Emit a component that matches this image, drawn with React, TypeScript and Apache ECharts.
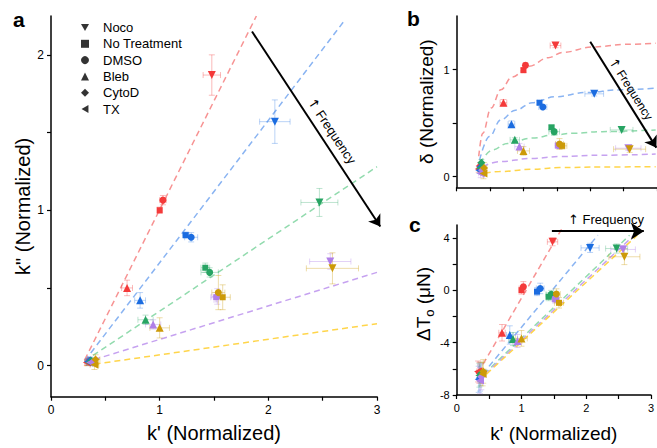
import React, { useEffect, useRef } from 'react';
import * as echarts from 'echarts';

// ---------------- DATA ----------------
const treatments = ['Noco', 'No Treatment', 'DMSO', 'Bleb', 'CytoD', 'TX'];

// rows: frequency groups (red, blue, green, purple, gold); cols: treatments
const kPrime = [
  [1.48, 1.0, 1.03, 0.7, 0.35, 0.33],
  [2.06, 1.24, 1.29, 0.82, 0.36, 0.34],
  [2.47, 1.42, 1.46, 0.87, 0.37, 0.35],
  [2.57, 1.52, 1.53, 0.94, 0.38, 0.36],
  [2.59, 1.58, 1.54, 1.0, 0.41, 0.4],
];
const kPrimeErr = [
  [0.08, 0.02, 0.03, 0.05, 0.02, 0.02],
  [0.14, 0.03, 0.06, 0.05, 0.02, 0.02],
  [0.17, 0.04, 0.08, 0.07, 0.02, 0.02],
  [0.19, 0.05, 0.05, 0.07, 0.03, 0.03],
  [0.24, 0.07, 0.06, 0.09, 0.04, 0.04],
];
const kDouble = [
  [1.87, 1.0, 1.065, 0.5, 0.03, 0.02],
  [1.57, 0.84, 0.826, 0.42, 0.035, 0.025],
  [1.05, 0.63, 0.6, 0.295, 0.03, 0.02],
  [0.67, 0.44, 0.445, 0.265, 0.02, 0.02],
  [0.626, 0.44, 0.47, 0.243, 0.04, 0.005],
];
const kDoubleErr = [
  [0.13, 0.02, 0.03, 0.05, 0.02, 0.02],
  [0.14, 0.02, 0.03, 0.05, 0.02, 0.02],
  [0.09, 0.03, 0.03, 0.03, 0.02, 0.02],
  [0.05, 0.03, 0.05, 0.03, 0.02, 0.02],
  [0.1, 0.08, 0.11, 0.065, 0.03, 0.03],
];
const delta = [
  [1.224, 0.994, 1.04, 0.69, 0.1, 0.07],
  [0.773, 0.69, 0.65, 0.49, 0.09, 0.06],
  [0.436, 0.46, 0.42, 0.343, 0.13, 0.08],
  [0.265, 0.29, 0.29, 0.28, 0.06, 0.03],
  [0.256, 0.287, 0.305, 0.24, 0.08, 0.03],
];
const deltaErr = [
  [0.02, 0.02, 0.02, 0.03, 0.03, 0.03],
  [0.02, 0.02, 0.02, 0.03, 0.03, 0.03],
  [0.02, 0.02, 0.02, 0.02, 0.03, 0.03],
  [0.02, 0.02, 0.03, 0.03, 0.04, 0.04],
  [0.03, 0.03, 0.05, 0.04, 0.05, 0.05],
];
const deltaT = [
  [3.71, 0.02, 0.27, -3.24, -6.3, -6.2],
  [3.25, -0.1, 0.15, -3.41, -6.7, -6.8],
  [3.2, -0.49, -0.3, -3.72, -6.4, -6.5],
  [3.13, -0.67, -0.62, -3.87, -6.6, -6.9],
  [2.57, -0.95, -0.28, -3.67, -6.2, -6.4],
];
const deltaTErr = [
  [0.3, 0.3, 0.4, 0.63, 0.8, 0.8],
  [0.35, 0.3, 0.4, 0.7, 1.0, 1.0],
  [0.35, 0.3, 0.3, 0.5, 0.9, 0.9],
  [0.3, 0.3, 0.3, 0.5, 1.0, 1.0],
  [0.6, 0.4, 0.4, 0.6, 0.9, 0.9],
];

// fitted lines / curves
const fitA = [
  [[0.31, 0.037], [1.89, 2.25]],
  [[0.31, 0.03], [2.7, 2.22]],
  [[0.31, 0.03], [3.0, 1.28]],
  [[0.31, 0.02], [3.0, 0.6]],
  [[0.31, 0.0], [3.0, 0.27]],
];
const fitB = [
  [[0.33, 0.19], [0.39, 0.405], [0.515, 0.64], [0.66, 0.81], [0.83, 0.93], [1.08, 1.03], [1.37, 1.11], [1.59, 1.16], [2.03, 1.21], [2.52, 1.235], [2.98, 1.245]],
  [[0.343, 0.156], [0.49, 0.374], [0.66, 0.53], [0.88, 0.62], [1.13, 0.69], [1.47, 0.745], [1.94, 0.785], [2.43, 0.81], [2.98, 0.826]],
  [[0.35, 0.125], [0.54, 0.25], [0.76, 0.31], [1.13, 0.36], [1.47, 0.39], [1.74, 0.405], [2.18, 0.42], [2.98, 0.436]],
  [[0.39, 0.093], [0.64, 0.14], [1.13, 0.17], [1.54, 0.187], [2.18, 0.2], [2.98, 0.21]],
  [[0.42, 0.03], [0.64, 0.047], [1.13, 0.068], [1.54, 0.084], [2.18, 0.09], [2.98, 0.093]],
];
const fitC = [
  [[0.33, -6.3], [1.64, 4.85]],
  [[0.4, -6.4], [2.18, 4.22]],
  [[0.42, -6.4], [2.67, 4.22]],
  [[0.44, -6.4], [2.74, 4.22]],
  [[0.46, -6.4], [2.79, 4.22]],
];

const arrowA = [[1.85, 2.15], [3.03, 0.895]];
const arrowB = [[2.0, 1.26], [2.99, 0.27]];
const arrowC = [[1.47, 4.53], [2.89, 4.53]];

const xTicks = [0, 0.5, 1, 1.5, 2, 2.5, 3];
const xLabels = [0, 1, 2, 3];
const aYTicks = [0, 0.5, 1, 1.5, 2];
const aYLabels = [0, 1, 2];
const bYTicks = [0, 0.5, 1];
const bYLabels = [0, 1];
const cYTicks = [-8, -6, -4, -2, 0, 2, 4];
const cYLabels = [-8, -4, 0, 4];

// ---------------- STYLE ----------------
const FONT = '"Liberation Sans", Arial, Helvetica, sans-serif';
const symbols = [
  'path://M0,0L10,0L5,8.66Z',
  'rect',
  'circle',
  'triangle',
  'diamond',
  'path://M0,5L8.66,0L8.66,10Z',
];
const symbolSizes = [8, 6, 7, 8, 8, 8];
const markerColors = ['#f43a3a', '#1b6ce0', '#27a463', '#b07fe8', '#cc9a08'];
const fitColors = ['#f79494', '#8ab4f2', '#92dbae', '#c6a2f0', '#ffd54a'];
const errColors = [
  'rgba(244,58,58,0.35)',
  'rgba(27,108,224,0.3)',
  'rgba(39,164,99,0.3)',
  'rgba(176,127,232,0.35)',
  'rgba(204,154,8,0.35)',
];

function makeErr(color: string) {
  return (params: any, api: any) => {
    const x = api.value(0);
    const y = api.value(1);
    const ex = api.value(2);
    const ey = api.value(3);
    const l = api.coord([x - ex, y]);
    const r = api.coord([x + ex, y]);
    const t = api.coord([x, y + ey]);
    const b = api.coord([x, y - ey]);
    const cap = 3;
    const st = { stroke: color, lineWidth: 1 };
    return {
      type: 'group',
      children: [
        { type: 'line', shape: { x1: l[0], y1: l[1], x2: r[0], y2: r[1] }, style: st },
        { type: 'line', shape: { x1: t[0], y1: t[1], x2: b[0], y2: b[1] }, style: st },
        { type: 'line', shape: { x1: l[0], y1: l[1] - cap, x2: l[0], y2: l[1] + cap }, style: st },
        { type: 'line', shape: { x1: r[0], y1: r[1] - cap, x2: r[0], y2: r[1] + cap }, style: st },
        { type: 'line', shape: { x1: t[0] - cap, y1: t[1], x2: t[0] + cap, y2: t[1] }, style: st },
        { type: 'line', shape: { x1: b[0] - cap, y1: b[1], x2: b[0] + cap, y2: b[1] }, style: st },
      ],
    };
  };
}

const axisCommon = {
  axisLine: { show: true, onZero: false, lineStyle: { color: '#000', width: 1.5 } },
  splitLine: { show: false },
  axisTick: { show: true, inside: false, length: 4, lineStyle: { color: '#000', width: 1.2 } },
};

function xAxis(grid: number, labels: number[] | null, name: string, nameGap: number) {
  return {
    type: 'value',
    gridIndex: grid,
    min: 0,
    max: 3,
    ...axisCommon,
    axisTick: { ...axisCommon.axisTick, customValues: xTicks },
    axisLabel: labels
      ? { show: true, customValues: labels, color: '#000', fontFamily: FONT, fontSize: grid === 0 ? 12 : 11, margin: 7 }
      : { show: false },
    name,
    nameLocation: 'middle',
    nameGap,
    nameTextStyle: { color: '#000', fontFamily: FONT, fontSize: grid === 0 ? 20 : 19 },
  };
}

function yAxis(grid: number, min: number, max: number, ticks: number[], labels: number[], name: string, nameGap: number, extra: any = {}) {
  return {
    type: 'value',
    gridIndex: grid,
    min,
    max,
    ...axisCommon,
    axisTick: { ...axisCommon.axisTick, customValues: ticks },
    axisLabel: { show: true, customValues: labels, color: '#000', fontFamily: FONT, fontSize: grid === 0 ? 12 : 11, margin: 7 },
    name,
    nameLocation: 'middle',
    nameGap,
    nameTextStyle: { color: '#000', fontFamily: FONT, fontSize: grid === 0 ? 20 : 19, ...extra },
  };
}

function buildSeries() {
  const series: any[] = [];
  const panels = [
    { g: 0, ys: kDouble, yErr: kDoubleErr },
    { g: 1, ys: delta, yErr: deltaErr },
    { g: 2, ys: deltaT, yErr: deltaTErr },
  ];
  // fits
  for (let i = 0; i < 5; i++) {
    series.push({
      type: 'line', xAxisIndex: 0, yAxisIndex: 0, data: fitA[i], symbol: 'none', silent: true, z: 1,
      lineStyle: { color: fitColors[i], width: 1.5, type: [6, 4] },
    });
    series.push({
      type: 'line', xAxisIndex: 1, yAxisIndex: 1, data: fitB[i], symbol: 'none', silent: true, z: 1,
      smooth: 0.4, smoothMonotone: 'x',
      lineStyle: { color: fitColors[i], width: 1.5, type: [6, 4] },
    });
    series.push({
      type: 'line', xAxisIndex: 2, yAxisIndex: 2, data: fitC[i], symbol: 'none', silent: true, z: 1,
      lineStyle: { color: fitColors[i], width: 1.5, type: [6, 4] },
    });
  }
  panels.forEach((p) => {
    for (let i = 0; i < 5; i++) {
      series.push({
        type: 'custom', xAxisIndex: p.g, yAxisIndex: p.g, silent: true, z: 2,
        renderItem: makeErr(errColors[i]),
        encode: { x: 0, y: 1 },
        data: kPrime[i].map((x, j) => [x, p.ys[i][j], kPrimeErr[i][j], p.yErr[i][j]]),
      });
    }
    for (let i = 0; i < 5; i++) {
      series.push({
        type: 'scatter', xAxisIndex: p.g, yAxisIndex: p.g, z: 3, silent: true,
        itemStyle: { color: markerColors[i], opacity: 1 },
        data: kPrime[i].map((x, j) => ({ value: [x, p.ys[i][j]], symbol: symbols[j], symbolSize: symbolSizes[j] })),
      });
    }
  });
  // legend dummies
  treatments.forEach((n, j) => {
    series.push({ type: 'scatter', name: n, xAxisIndex: 0, yAxisIndex: 0, data: [], symbol: symbols[j], itemStyle: { color: '#000' } });
  });
  // arrows
  [arrowA, arrowB, arrowC].forEach((a, k) => {
    series.push({
      type: 'lines', coordinateSystem: 'cartesian2d', xAxisIndex: k, yAxisIndex: k, clip: false, silent: true, z: 5,
      symbol: ['none', 'arrow'], symbolSize: k === 2 ? 13 : 11,
      lineStyle: { color: '#000', width: 2, opacity: 1 },
      data: [{ coords: a }],
    });
  });
  return series;
}

const freqRich = { ar: { fontFamily: '"DejaVu Sans", sans-serif', fontSize: 13, fill: '#000' } };

export default function App() {
  const ref = useRef<HTMLDivElement>(null);
  useEffect(() => {
    if (!ref.current) return;
    const chart = echarts.init(ref.current, null, { renderer: 'svg' });
    const option: any = {
      animation: false,
      backgroundColor: '#fff',
      textStyle: { fontFamily: FONT },
      grid: [
        { left: 51, top: 16, width: 326, height: 380.7 },
        { left: 456.7, top: 16, width: 204, height: 171.3 },
        { left: 456.7, top: 225, width: 204, height: 170 },
      ],
      xAxis: [
        xAxis(0, xLabels, "k' (Normalized)", 26),
        xAxis(1, null, '', 0),
        xAxis(2, xLabels, "k' (Normalized)", 29),
      ],
      yAxis: [
        yAxis(0, -0.2, 2.25, aYTicks, aYLabels, 'k" (Normalized)', 12),
        yAxis(1, -0.1, 1.5, bYTicks, bYLabels, 'δ (Normalized)', 21),
        yAxis(2, -8, 5, cYTicks, cYLabels, '{m|ΔT}{s|o}{m| (μN)}', 21, {
          padding: [0, 0, 0, 12],
          rich: {
            m: { fontSize: 19, fontFamily: FONT, color: '#000', lineHeight: 24 },
            s: { fontSize: 13, fontFamily: FONT, color: '#000', verticalAlign: 'bottom', lineHeight: 20 },
          },
        }),
      ],
      legend: {
        orient: 'vertical',
        left: 76,
        top: 16,
        itemWidth: 8,
        itemHeight: 8,
        itemGap: 3.3,
        selectedMode: false,
        data: treatments.map((n, j) => ({ name: n, icon: symbols[j] })),
        textStyle: { color: '#000', fontFamily: FONT, fontSize: 13, padding: [0, 0, 0, 9] },
      },
      graphic: [
        { type: 'text', left: 13, top: 9, style: { text: 'a', font: `bold 21px ${FONT}`, fill: '#000' } },
        { type: 'text', left: 407, top: 8, style: { text: 'b', font: `bold 21px ${FONT}`, fill: '#000' } },
        { type: 'text', left: 409, top: 214, style: { text: 'c', font: `bold 21px ${FONT}`, fill: '#000' } },
        {
          type: 'text', x: 332, y: 131, rotation: -0.985, z: 10,
          style: { text: '{ar|↑} Frequency', rich: freqRich, font: `13px ${FONT}`, fill: '#000', align: 'center', verticalAlign: 'middle' },
        },
        {
          type: 'text', x: 631, y: 89, rotation: -1.01, z: 10,
          style: { text: '{ar|↑} Frequency', rich: freqRich, font: `12px ${FONT}`, fill: '#000', align: 'center', verticalAlign: 'middle' },
        },
        {
          type: 'text', x: 606, y: 219, z: 10,
          style: { text: '{ar|↑} Frequency', rich: freqRich, font: `13px ${FONT}`, fill: '#000', align: 'center', verticalAlign: 'middle' },
        },
      ],
      series: buildSeries(),
    };
    chart.setOption(option);
    return () => chart.dispose();
  }, []);
  return <div ref={ref} style={{ position: 'fixed', left: 0, top: 0, width: 657, height: 448, background: '#fff' }} />;
}
